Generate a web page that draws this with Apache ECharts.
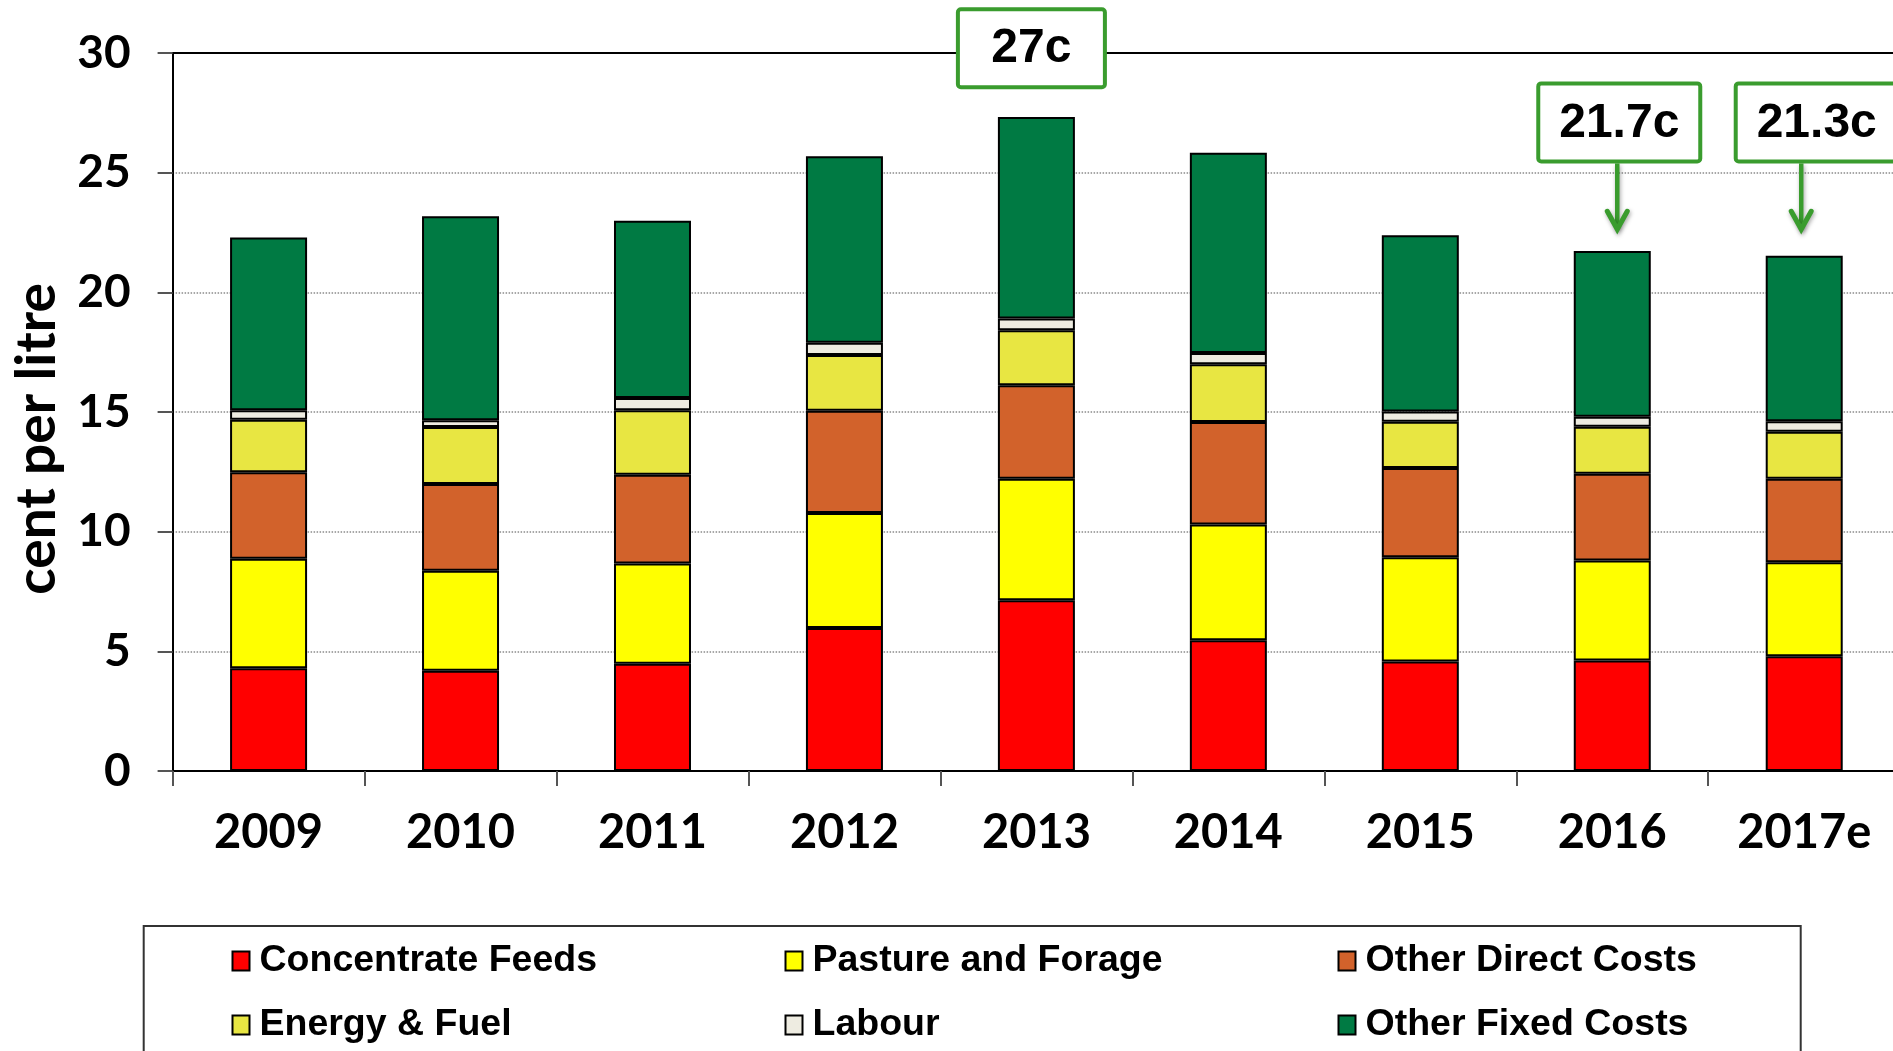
<!DOCTYPE html>
<html>
<head>
<meta charset="utf-8">
<script src="https://cdn.jsdelivr.net/npm/echarts@6/dist/echarts.min.js"></script>
<style>
html,body{margin:0;padding:0;background:#fff;overflow:hidden;}
#chart{width:1902px;height:1051px;}
</style>
</head>
<body>
<div id="chart"></div>
<script>
// ---- data ----
const categories = ['2009','2010','2011','2012','2013','2014','2015','2016','2017e'];
const concentrateFeeds = [4.29,4.19,4.48,5.97,7.13,5.46,4.57,4.62,4.79];
const pastureForage    = [4.58,4.18,4.19,4.81,5.08,4.84,4.36,4.18,3.93];
const otherDirectCosts = [3.61,3.62,3.71,4.27,3.91,4.28,3.73,3.62,3.49];
const energyFuel       = [2.20,2.38,2.69,2.33,2.30,2.41,1.93,1.96,1.96];
const labour           = [0.39,0.29,0.51,0.51,0.49,0.48,0.43,0.42,0.44];
const otherFixedCosts  = [7.22,8.52,7.41,7.80,8.42,8.36,7.37,6.93,6.92];
const seriesNames = ['Concentrate Feeds','Pasture and Forage','Other Direct Costs','Energy & Fuel','Labour','Other Fixed Costs'];
const yMin = 0, yMax = 30, yInterval = 5;
const annotationCats   = ['2013','2016','2017e'];
const annotationTexts  = ['27c','21.7c','21.3c'];
const annotationArrows = [false,true,true];

// ---- styles ----
const colors = ['#FF0000','#FFFF00','#D2622B','#E8E642','#EEECE1','#007A43'];
const gillFont = 'Lato, "Open Sans", sans-serif';
const arialFont = '"Liberation Sans", Arial, sans-serif';
const green = '#3A9C2E';

const seriesData = [concentrateFeeds, pastureForage, otherDirectCosts, energyFuel, labour, otherFixedCosts];

const chart = echarts.init(document.getElementById('chart'), null, {renderer:'canvas'});

function legendBlock(names, left){
  return {
    orient:'vertical', left:left, top:941, padding:0,
    icon:'rect',
    itemWidth:17, itemHeight:19, itemGap:24,
    data:names,
    textStyle:{fontFamily:arialFont, fontWeight:'bold', fontSize:37.5, color:'#000', lineHeight:40, padding:[0,0,0,5]},
    selectedMode:false
  };
}

const option = {
  animation:false,
  backgroundColor:'#fff',
  grid:{left:172.6, top:53, width:1727.6, height:718, containLabel:false},
  legend:[
    legendBlock([seriesNames[0], seriesNames[3]], 231.5),
    legendBlock([seriesNames[1], seriesNames[4]], 784.5),
    legendBlock([seriesNames[2], seriesNames[5]], 1337.5)
  ],
  xAxis:[{
    type:'category', data:categories, position:'bottom',
    axisLine:{show:true, lineStyle:{color:'#000', width:2}},
    axisTick:{show:true, length:15, lineStyle:{color:'#555', width:2}},
    axisLabel:{fontFamily:gillFont, fontWeight:'bold', fontSize:47, color:'#000', margin:38, interval:0},
    splitLine:{show:false}
  },{
    type:'category', data:categories, position:'top',
    axisLine:{show:true, lineStyle:{color:'#000', width:2}},
    axisTick:{show:false}, axisLabel:{show:false}, splitLine:{show:false}
  }],
  yAxis:{
    type:'value', min:yMin, max:yMax, interval:yInterval,
    name:'cent per litre', nameLocation:'middle', nameRotate:90, nameGap:108,
    nameTextStyle:{fontFamily:gillFont, fontWeight:'bold', fontSize:55, color:'#000', padding:[0,54,0,0]},
    axisLine:{show:true, lineStyle:{color:'#000', width:2}},
    axisTick:{show:true, length:15, lineStyle:{color:'#555', width:2}},
    axisLabel:{fontFamily:gillFont, fontWeight:'bold', fontSize:46, color:'#000', margin:42},
    splitLine:{show:true, showMinLine:false, showMaxLine:false, lineStyle:{color:'#8a8a8a', type:'dotted', width:1.5}}
  },
  series: seriesNames.map((n,i)=>({
    name:n, type:'bar', stack:'cost', data:seriesData[i], barWidth:77,
    itemStyle:{color:colors[i], borderColor:'#000', borderWidth:2}
  }))
};
chart.setOption(option);

// ---- annotations anchored to categories / values ----
const annLayout = [
  {boxDx:-5,  boxValue:30.2, w:147, h:78, arrowDx:0},
  {boxDx:7,   boxValue:27.1, w:162, h:78, arrowDx:5},
  {boxDx:12.5,boxValue:27.1, w:162, h:78, arrowDx:-3}
];
const arrowTipValue = 22.55;
const graphics = [];
// legend frame
graphics.push({type:'rect', z:1, shape:{x:143.7, y:926, width:1657, height:200},
  style:{fill:'none', stroke:'#333', lineWidth:2}});
annotationCats.forEach((c,i)=>{
  const L = annLayout[i];
  const p = chart.convertToPixel({xAxisIndex:0, yAxisIndex:0}, [c, L.boxValue]);
  const cx = p[0] + L.boxDx, cy = p[1];
  graphics.push({type:'rect', z:100, shape:{x:cx-L.w/2, y:cy-L.h/2, width:L.w, height:L.h, r:3},
    style:{fill:'#fff', stroke:green, lineWidth:4}});
  graphics.push({type:'text', z:101, x:cx, y:cy+1,
    style:{text:annotationTexts[i], fill:'#000', font:'bold 48px "Liberation Sans", Arial, sans-serif', align:'center', verticalAlign:'middle'}});
  if(annotationArrows[i]){
    const tip = chart.convertToPixel({xAxisIndex:0, yAxisIndex:0}, [c, arrowTipValue]);
    const ax = tip[0] + L.arrowDx, top = cy + L.h/2 + 2, ty = tip[1];
    const sh = {shadowBlur:4, shadowColor:'rgba(0,0,0,0.35)', shadowOffsetX:1, shadowOffsetY:2};
    graphics.push({type:'line', z:99, shape:{x1:ax, y1:top, x2:ax, y2:ty-3},
      style:Object.assign({stroke:green, lineWidth:4.5}, sh)});
    graphics.push({type:'polyline', z:99, shape:{points:[[ax-10,ty-20],[ax,ty-2],[ax+10,ty-20]]},
      style:Object.assign({stroke:green, lineWidth:5, fill:'none', lineJoin:'miter', lineCap:'round'}, sh)});
  }
});
chart.setOption({graphic:graphics});
</script>
</body>
</html>
